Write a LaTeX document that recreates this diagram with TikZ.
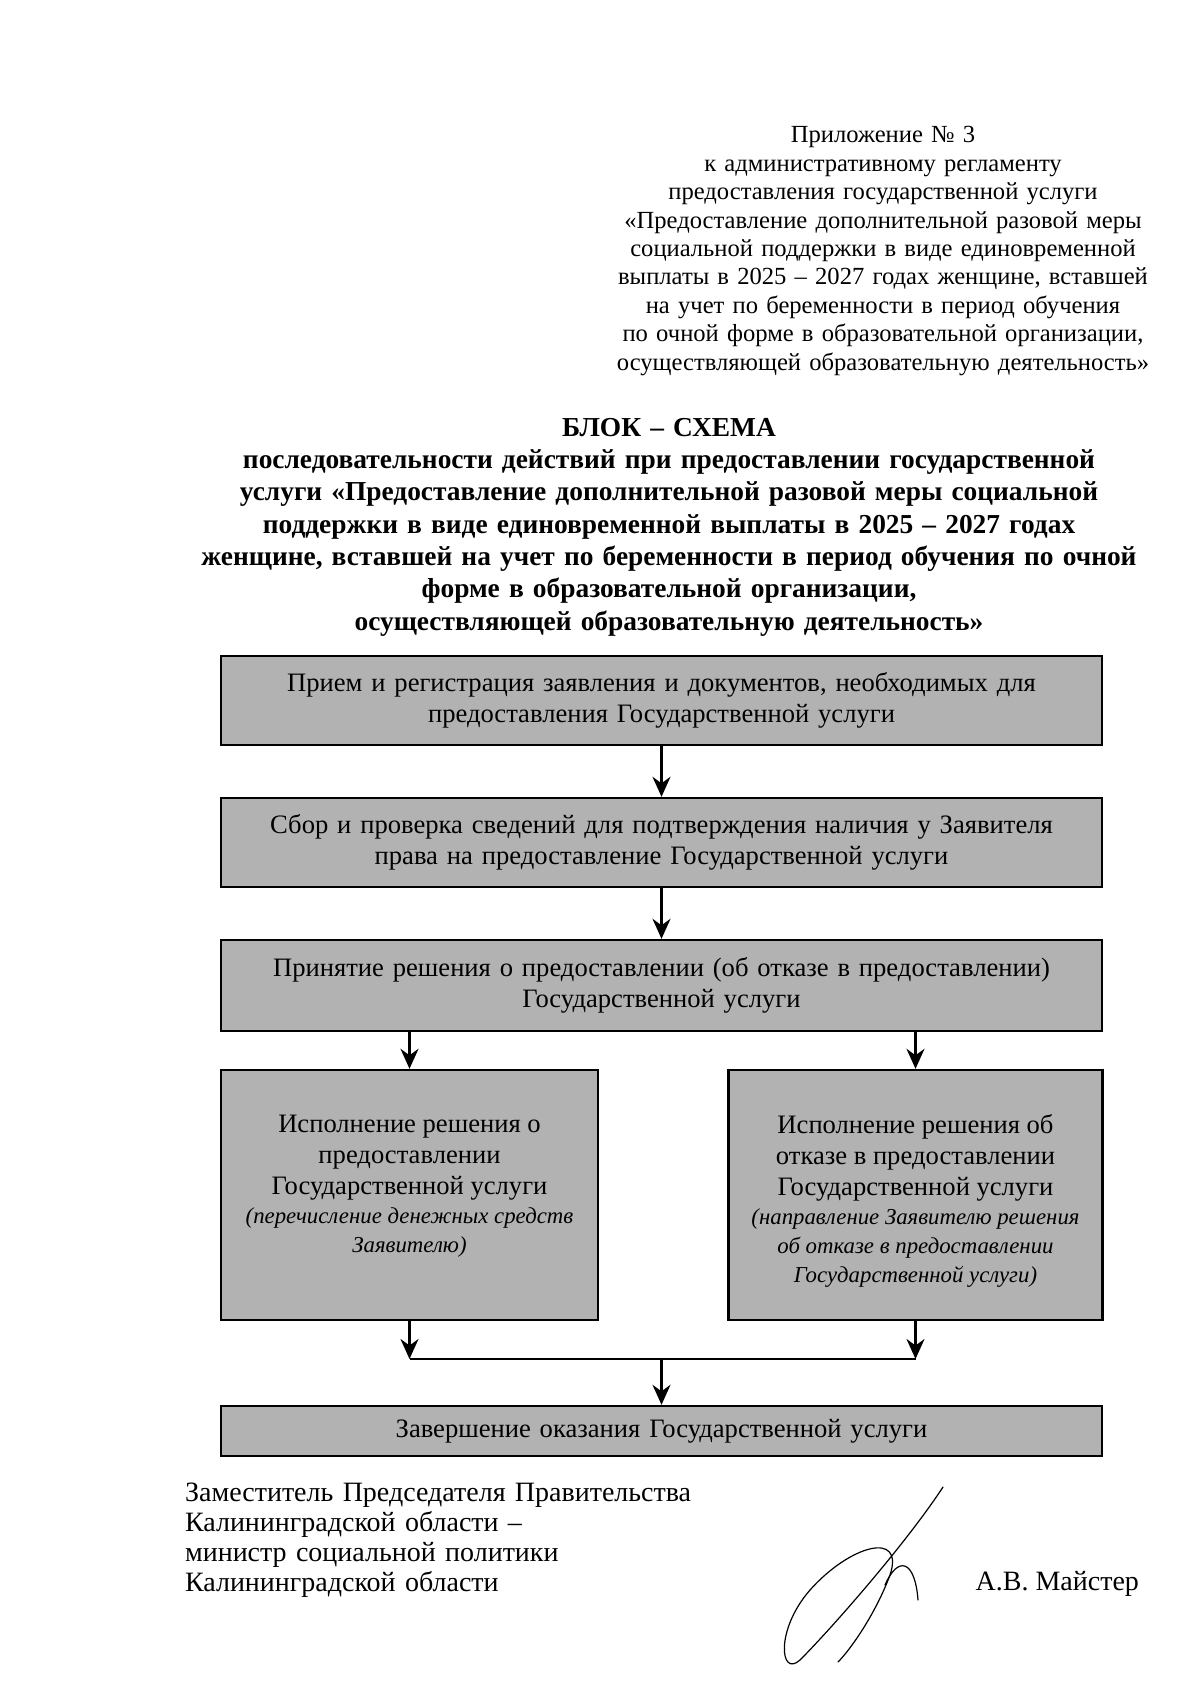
\documentclass[tikz,border=0pt]{standalone}
\usepackage{fontspec}
\setmainfont{Liberation Serif}
\usetikzlibrary{positioning,arrows.meta,calc}

\newcommand{\halftext}[2]{\raisebox{#1}[\height][\depth]{\parbox{183pt}{\centering #2}}}

\begin{document}
\begin{tikzpicture}[x=0.5pt,y=-0.5pt]

 \tikzset{
   stage/.style={rectangle, draw=black, fill=black!30, line width=1.2pt, inner sep=2pt, align=center, font=\fontsize{13.3}{15.5}\selectfont},
   wide/.style={stage, minimum width=440.5pt, text width=434pt},
   half/.style={stage, minimum height=125pt},
   arrow/.style={-{Stealth[length=10pt,width=9pt]}, line width=1.2pt},
   sig/.style={line width=0.6pt, line cap=round}
 }

 \useasboundingbox (0,0) rectangle (1200,1689);

 % Vertical alignment levels
 \def\levelA{700.5}    % priem
 \def\levelB{842.5}    % sbor
 \def\levelC{985.5}    % reshenie
 \def\levelD{1195}     % ispoln, otkaz
 \def\levelE{1359}     % join line
 \def\levelF{1431}     % zavershenie

 % Horizontal positions
 \def\xposMid{661.5}
 \def\xposLeft{409.5}
 \def\xposRight{915.5}

 % Header and title
 \node[align=center, text width=320pt, font=\fontsize{12.3}{14.2}\selectfont] (prilozh) at (883, 251)
   {Приложение № 3\\ к административному регламенту\\ предоставления государственной услуги\\
    «Предоставление дополнительной разовой меры\\ социальной поддержки в виде единовременной\\
    выплаты в 2025 – 2027 годах женщине, вставшей\\ на учет по беременности в период обучения\\
    по очной форме в образовательной организации,\\ осуществляющей образовательную деятельность»};
 \node[align=center, text width=520pt, font=\bfseries\fontsize{13.7}{16.15}\selectfont] (title) at (669, 527)
   {БЛОК – СХЕМА\\ последовательности действий при предоставлении государственной\\
    услуги «Предоставление дополнительной разовой меры социальной\\
    поддержки в виде единовременной выплаты в 2025 – 2027 годах\\
    женщине, вставшей на учет по беременности в период обучения по очной\\
    форме в образовательной организации,\\ осуществляющей образовательную деятельность»};

 % Stages
 \node[wide, minimum height=44.5pt] (priem) at (\xposMid, \levelA)
   {Прием и регистрация заявления и документов, необходимых для\\ предоставления Государственной услуги};
 \node[wide, minimum height=44.5pt] (sbor) at (\xposMid, \levelB)
   {Сбор и проверка сведений для подтверждения наличия у Заявителя\\ права на предоставление Государственной услуги};
 \node[wide, minimum height=45.5pt] (reshenie) at (\xposMid, \levelC)
   {Принятие решения о предоставлении (об отказе в предоставлении)\\ Государственной услуги};
 \node[half, minimum width=188.5pt] (ispoln) at (\xposLeft, \levelD)
   {\halftext{4.3pt}{Исполнение решения о\\ предоставлении\\ Государственной услуги\par
    \itshape\fontsize{11.4}{14.5}\selectfont (перечисление денежных средств\\ Заявителю)}};
 \node[half, minimum width=186.5pt] (otkaz) at (\xposRight, \levelD)
   {\halftext{-3pt}{Исполнение решения об\\ отказе в предоставлении\\ Государственной услуги\par
    \itshape\fontsize{11.4}{14.5}\selectfont (направление Заявителю решения\\ об отказе в предоставлении\\ Государственной услуги)}};
 \node[wide, minimum height=25pt] (zavershenie) at (\xposMid, \levelF)
   {Завершение оказания Государственной услуги};

 % Arrows
 \coordinate (join) at (\xposMid, \levelE);
 \draw[arrow] (priem) -- (sbor);
 \draw[arrow] (sbor) -- (reshenie);
 \draw[arrow] (reshenie.south -| ispoln) -- (ispoln);
 \draw[arrow] (reshenie.south -| otkaz) -- (otkaz);
 \draw[arrow] (ispoln) -- (ispoln |- join);
 \draw[arrow] (otkaz) -- (otkaz |- join);
 \draw[line width=1.2pt] (ispoln |- join) -- (otkaz |- join);
 \draw[arrow] (join) -- (zavershenie);

 % Signature block
 \node[anchor=west, align=left, text width=300pt, font=\fontsize{14}{15}\selectfont] (podpis) at (178, 1540)
   {Заместитель Председателя Правительства\\ Калининградской области –\\
    министр социальной политики\\ Калининградской области};
 \node[anchor=east, font=\fontsize{14}{15}\selectfont] (fio) at (1146, 1584) {А.В. Майстер};

 \draw[sig] (943,1487) .. controls (905,1545) and (830,1630) .. (800,1660)
   .. controls (780,1678) and (775,1630) .. (810,1590)
   .. controls (850,1545) and (905,1530) .. (890,1575)
   .. controls (875,1615) and (850,1650) .. (838,1662);
 \draw[sig] (885,1585) .. controls (898,1555) and (915,1560) .. (918,1600);

\end{tikzpicture}
\end{document}
